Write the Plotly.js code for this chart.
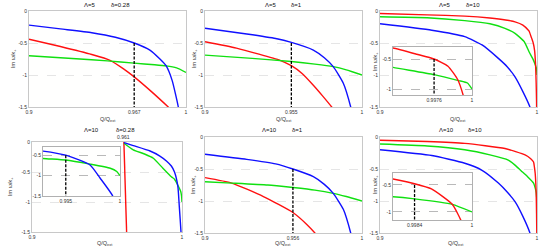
<!DOCTYPE html>
<html><head><meta charset="utf-8">
<script src="https://cdn.plot.ly/plotly-3.0.1.min.js"></script>
<style>html,body{margin:0;padding:0;background:#fff}#chart{width:550px;height:250px}</style>
</head><body><div id="chart"></div>
<script>
// ---------- data ----------
// Panel 1: Λ=5, δ=0.28
const p1BlueX  = [0.900, 0.920, 0.940, 0.955, 0.967, 0.977, 0.9834, 0.9873, 0.9911, 0.9951, 0.9970];
const p1BlueY  = [-0.22, -0.28, -0.34, -0.41, -0.50, -0.61, -0.75, -0.855, -1.08, -1.50, -1.90];
const p1RedX   = [0.900, 0.920, 0.940, 0.9516, 0.960, 0.967, 0.978, 0.9887, 0.9930];
const p1RedY   = [-0.44, -0.555, -0.68, -0.77, -0.90, -1.03, -1.26, -1.50, -1.60];
const p1GreenX = [0.900, 0.930, 0.950, 0.967, 0.980, 0.9873, 0.9940, 1.000];
const p1GreenY = [-0.70, -0.745, -0.78, -0.815, -0.84, -0.858, -0.89, -0.96];
// Panel 2: Λ=5, δ=1
const p2BlueX  = [0.900, 0.9266, 0.945, 0.955, 0.969, 0.976, 0.9817, 0.9881, 0.9928, 0.9950];
const p2BlueY  = [-0.27, -0.36, -0.43, -0.49, -0.61, -0.73, -0.87, -1.13, -1.50, -1.75];
const p2RedX   = [0.900, 0.920, 0.9478, 0.955, 0.962, 0.969, 0.975, 0.9807, 0.9840];
const p2RedY   = [-0.48, -0.58, -0.77, -0.855, -0.98, -1.16, -1.33, -1.50, -1.62];
const p2GreenX = [0.900, 0.930, 0.955, 0.970, 0.9817, 0.990, 1.000];
const p2GreenY = [-0.69, -0.74, -0.79, -0.83, -0.87, -0.92, -1.00];
// Panel 3: Λ=5, δ=10
const p3RedX   = [0.900, 0.930, 0.954, 0.970, 0.980, 0.986, 0.991, 0.9945, 0.9950, 0.9965, 0.9976, 0.99848, 0.99910, 0.99946, 0.99970, 0.99985, 1.000];
const p3RedY   = [-0.04, -0.06, -0.08, -0.11, -0.14, -0.17, -0.22, -0.30, -0.317, -0.42, -0.50, -0.62, -0.845, -1.12, -1.40, -1.70, -2.00];
const p3GreenX = [0.900, 0.930, 0.954, 0.970, 0.9796, 0.986, 0.9919, 0.9950, 0.9976, 0.99916, 0.99971, 1.000];
const p3GreenY = [-0.09, -0.105, -0.15, -0.20, -0.27, -0.35, -0.48, -0.64, -0.76, -0.86, -0.90, -1.00];
const p3BlueX  = [0.900, 0.933, 0.954, 0.965, 0.9754, 0.981, 0.986, 0.991, 0.9955, 0.9970];
const p3BlueY  = [-0.20, -0.30, -0.40, -0.53, -0.74, -0.87, -1.03, -1.26, -1.50, -1.62];
// Panel 4: Λ=10, δ=0.28
const p4RedX   = [0.9612, 0.9632];
const p4RedY   = [0.05, -1.60];
const p4BlueX  = [0.9613, 0.9675, 0.9787, 0.985, 0.9898, 0.9929, 0.9950, 0.99724, 0.99816, 0.99933, 0.9998];
const p4BlueY  = [-0.01, -0.06, -0.15, -0.23, -0.32, -0.40, -0.50, -0.74, -1.06, -1.50, -1.90];
const p4GreenX = [0.9613, 0.9675, 0.975, 0.9809, 0.987, 0.9929, 0.9950, 0.99724, 0.9991, 0.9997, 1.000];
const p4GreenY = [-0.02, -0.13, -0.20, -0.27, -0.43, -0.58, -0.62, -0.72, -0.82, -0.90, -1.00];
// Panel 5: Λ=10, δ=1
const p5BlueX  = [0.900, 0.9266, 0.945, 0.956, 0.969, 0.976, 0.9817, 0.9881, 0.9928, 0.9950];
const p5BlueY  = [-0.27, -0.35, -0.42, -0.50, -0.62, -0.74, -0.88, -1.13, -1.50, -1.75];
const p5RedX   = [0.900, 0.917, 0.9372, 0.956, 0.965, 0.970, 0.974];
const p5RedY   = [-0.635, -0.72, -0.93, -1.18, -1.37, -1.50, -1.62];
const p5GreenX = [0.900, 0.917, 0.940, 0.956, 0.970, 0.9817, 0.990, 1.000];
const p5GreenY = [-0.70, -0.72, -0.75, -0.79, -0.83, -0.88, -0.93, -1.00];
// Panel 6: Λ=10, δ=10
const p6RedX   = [0.900, 0.930, 0.954, 0.9796, 0.9924, 0.9960, 0.9978, 0.9984, 0.99887, 0.99945, 0.99972, 0.99990, 1.000];
const p6RedY   = [-0.05, -0.07, -0.10, -0.18, -0.28, -0.34, -0.39, -0.48, -0.575, -0.86, -1.20, -1.60, -2.00];
const p6GreenX = [0.900, 0.930, 0.954, 0.970, 0.9817, 0.986, 0.990, 0.994, 0.9978, 0.9984, 0.99945, 1.000];
const p6GreenY = [-0.11, -0.14, -0.20, -0.28, -0.36, -0.44, -0.53, -0.62, -0.72, -0.76, -0.86, -1.00];
const p6BlueX  = [0.900, 0.933, 0.954, 0.965, 0.9754, 0.981, 0.986, 0.991, 0.9955, 0.9970];
const p6BlueY  = [-0.20, -0.29, -0.41, -0.52, -0.72, -0.86, -1.01, -1.24, -1.50, -1.65];

// threshold markers (dashed verticals): panel1, panel2, inset3, inset4, panel5, inset6
const markX   = [0.967, 0.955, 0.9976, 0.995, 0.956, 0.9984];
const markTop = [-0.5, -0.5, -0.5, -0.5, -0.5, -0.5];
const markLabels = ['0.967', '0.955', '0.9976', '0.995', '0.956', '0.9984'];
const p4RedLabel = '0.961';
const p4RedAt = 0.961;

// tick labels
const mainYTicks = [0, -0.5, -1, -1.5];
const mainYLabels = ['0', '-0.5', '-1', '-1.5'];
const insetYTicks = [-0.5, -1];
const insetYLabels = ['-0.5', '-1'];
const inset4YTicks = [-0.5, -1, -1.5];
const inset4YLabels = ['-0.5', '-1', '-1.5'];

const titlesL = ['Λ=5', 'Λ=5', 'Λ=5', 'Λ=10', 'Λ=10', 'Λ=10'];
const titlesD = ['δ=0.28', 'δ=1', 'δ=10', 'δ=0.28', 'δ=1', 'δ=10'];

// ---------- layout helpers (pixel based) ----------
const W = 550, H = 250;
const dX = (a, b) => [a / W, b / W];
const dY = (t, b) => [1 - b / H, 1 - t / H];
const frameCol = '#c8c8c8';
const tf = {size: 5, color: '#333', family: 'Liberation Sans, Arial, sans-serif'};

function xAx(dom, anchor, range, vals, text, inset) {
  return {domain: dom, anchor: anchor, range: range, tickvals: vals, ticktext: text,
    showgrid: false, zeroline: false, showline: true, mirror: true,
    linecolor: inset ? '#b0b0b0' : frameCol, linewidth: 1, ticks: '', tickfont: tf, fixedrange: true};
}
function yAx(dom, anchor, range, vals, text, inset) {
  return {domain: dom, anchor: anchor, range: range, tickvals: vals, ticktext: text,
    showgrid: true, gridcolor: inset ? '#a8a8a8' : '#dedede', griddash: 'dash', gridwidth: 0.8,
    zeroline: false, showline: true, mirror: true,
    linecolor: inset ? '#b0b0b0' : frameCol, linewidth: 1, ticks: '', tickfont: tf, fixedrange: true};
}

const RED = '#ff1010', BLUE = '#1010ff', GREEN = '#10e010';
function ln(x, y, n, color) {
  return {type: 'scatter', mode: 'lines', x: x, y: y, xaxis: 'x' + n, yaxis: 'y' + n,
    line: {color: color, width: 1.4, shape: 'spline', smoothing: 0.5}, hoverinfo: 'skip'};
}
function dash(i, n, bottom) {
  return {type: 'scatter', mode: 'lines', x: [markX[i], markX[i]], y: [markTop[i], bottom - 1],
    xaxis: 'x' + n, yaxis: 'y' + n, line: {color: '#000', width: 1.3, dash: '3px,1.5px'}, hoverinfo: 'skip'};
}

const mainRange = [-1.5, 0];
const xr = [0.9, 1];
const in3X = [0.995, 1], in3Y = [-1.1, -0.3];
const in4X = [0.9929, 1], in4Y = [-1.5, -0.3];
const in6X = [0.9978, 1], in6Y = [-1.15, -0.28];

const traces = [
  ln(p1RedX, p1RedY, 1, RED), ln(p1GreenX, p1GreenY, 1, GREEN), ln(p1BlueX, p1BlueY, 1, BLUE), dash(0, 1, -1.5),
  ln(p2RedX, p2RedY, 2, RED), ln(p2GreenX, p2GreenY, 2, GREEN), ln(p2BlueX, p2BlueY, 2, BLUE), dash(1, 2, -1.5),
  ln(p3BlueX, p3BlueY, 3, BLUE), ln(p3GreenX, p3GreenY, 3, GREEN), ln(p3RedX, p3RedY, 3, RED),
  ln(p4RedX, p4RedY, 4, RED), ln(p4GreenX, p4GreenY, 4, GREEN), ln(p4BlueX, p4BlueY, 4, BLUE),
  ln(p5RedX, p5RedY, 5, RED), ln(p5GreenX, p5GreenY, 5, GREEN), ln(p5BlueX, p5BlueY, 5, BLUE), dash(4, 5, -1.5),
  ln(p6BlueX, p6BlueY, 6, BLUE), ln(p6GreenX, p6GreenY, 6, GREEN), ln(p6RedX, p6RedY, 6, RED),
  // insets
  ln(p3GreenX, p3GreenY, 7, GREEN), ln(p3RedX, p3RedY, 7, RED), dash(2, 7, in3Y[0]),
  ln(p4GreenX, p4GreenY, 8, GREEN), ln(p4BlueX, p4BlueY, 8, BLUE), dash(3, 8, in4Y[0]),
  ln(p6GreenX, p6GreenY, 9, GREEN), ln(p6RedX, p6RedY, 9, RED), dash(5, 9, in6Y[0])
];

const layout = {
  width: W, height: H, margin: {l: 0, r: 0, t: 0, b: 0},
  paper_bgcolor: '#ffffff', plot_bgcolor: '#fffffe', showlegend: false,
  font: {family: 'Liberation Sans, Arial, sans-serif', size: 5, color: '#333'},
  xaxis:  xAx(dX(29, 186), 'y', xr, [0.9, markX[0], 1], ['0.9', markLabels[0], '1']),
  yaxis:  yAx(dY(11, 107), 'x', mainRange, mainYTicks, mainYLabels),
  xaxis2: xAx(dX(205, 362), 'y2', xr, [0.9, markX[1], 1], ['0.9', markLabels[1], '1']),
  yaxis2: yAx(dY(11, 107), 'x2', mainRange, mainYTicks, mainYLabels),
  xaxis3: xAx(dX(380, 537), 'y3', xr, [0.9, 1], ['0.9', '1']),
  yaxis3: yAx(dY(11, 107), 'x3', mainRange, mainYTicks, mainYLabels),
  xaxis4: xAx(dX(32, 182), 'y4', xr, [0.9, 1], ['0.9', '1']),
  yaxis4: yAx(dY(142, 232), 'x4', mainRange, mainYTicks, mainYLabels),
  xaxis5: xAx(dX(205, 362), 'y5', xr, [0.9, markX[4], 1], ['0.9', markLabels[4], '1']),
  yaxis5: yAx(dY(137, 233), 'x5', mainRange, mainYTicks, mainYLabels),
  xaxis6: xAx(dX(380, 537), 'y6', xr, [0.9, 1], ['0.9', '1']),
  yaxis6: yAx(dY(137, 233), 'x6', mainRange, mainYTicks, mainYLabels),
  xaxis7: xAx(dX(393, 472), 'y7', in3X, [markX[2], 1], [markLabels[2], '1'], true),
  yaxis7: yAx(dY(47, 95), 'x7', in3Y, insetYTicks, insetYLabels, true),
  xaxis8: xAx(dX(43, 120), 'y8', in4X, [markX[3], 1], [markLabels[3], '1'], true),
  yaxis8: yAx(dY(147, 196), 'x8', in4Y, inset4YTicks, inset4YLabels, true),
  xaxis9: xAx(dX(393, 472), 'y9', in6X, [markX[5], 1], [markLabels[5], '1'], true),
  yaxis9: yAx(dY(173, 220), 'x9', in6Y, insetYTicks, insetYLabels, true),
  annotations: []
};

// titles
const tX = [[89.5, 120], [270.5, 296.5], [445, 472.5], [91.5, 125], [269, 297], [446, 475]];
const tY = [4.5, 4.5, 4.5, 129.5, 129.5, 129.5];
for (let i = 0; i < 6; i++) {
  [titlesL[i], titlesD[i]].forEach((t, k) => layout.annotations.push({
    text: t, x: tX[i][k] / W, y: 1 - tY[i] / H, xref: 'paper', yref: 'paper',
    showarrow: false, xanchor: 'center', yanchor: 'middle',
    font: {size: 6, color: '#111', family: 'Liberation Sans, Arial, sans-serif'}
  }));
}
// axis titles
const xLab = [[108, 119], [284, 119], [458, 119], [105, 243], [283, 243], [456, 243]];
const yLab = [[13, 59], [194, 59], [375, 62], [10, 187], [193, 185], [375, 185]];
for (let i = 0; i < 6; i++) {
  layout.annotations.push({text: 'Q/Q<sub>ext</sub>', x: xLab[i][0] / W, y: 1 - xLab[i][1] / H,
    xref: 'paper', yref: 'paper', showarrow: false, xanchor: 'center', yanchor: 'middle',
    font: {size: 5.5, color: '#333'}});
  layout.annotations.push({text: 'Im ω/κ<sub>+</sub>', x: yLab[i][0] / W, y: 1 - yLab[i][1] / H,
    xref: 'paper', yref: 'paper', showarrow: false, xanchor: 'center', yanchor: 'middle', textangle: -90,
    font: {size: 5.5, color: '#333'}});
}
// label of the red vertical in panel 4
layout.annotations.push({text: p4RedLabel, x: p4RedAt, xref: 'x4', y: 1 - 136.5 / H, yref: 'paper',
  showarrow: false, xanchor: 'center', yanchor: 'middle', font: {size: 5, color: '#333'}});

Plotly.newPlot('chart', traces, layout, {staticPlot: true, displayModeBar: false});
</script></body></html>
